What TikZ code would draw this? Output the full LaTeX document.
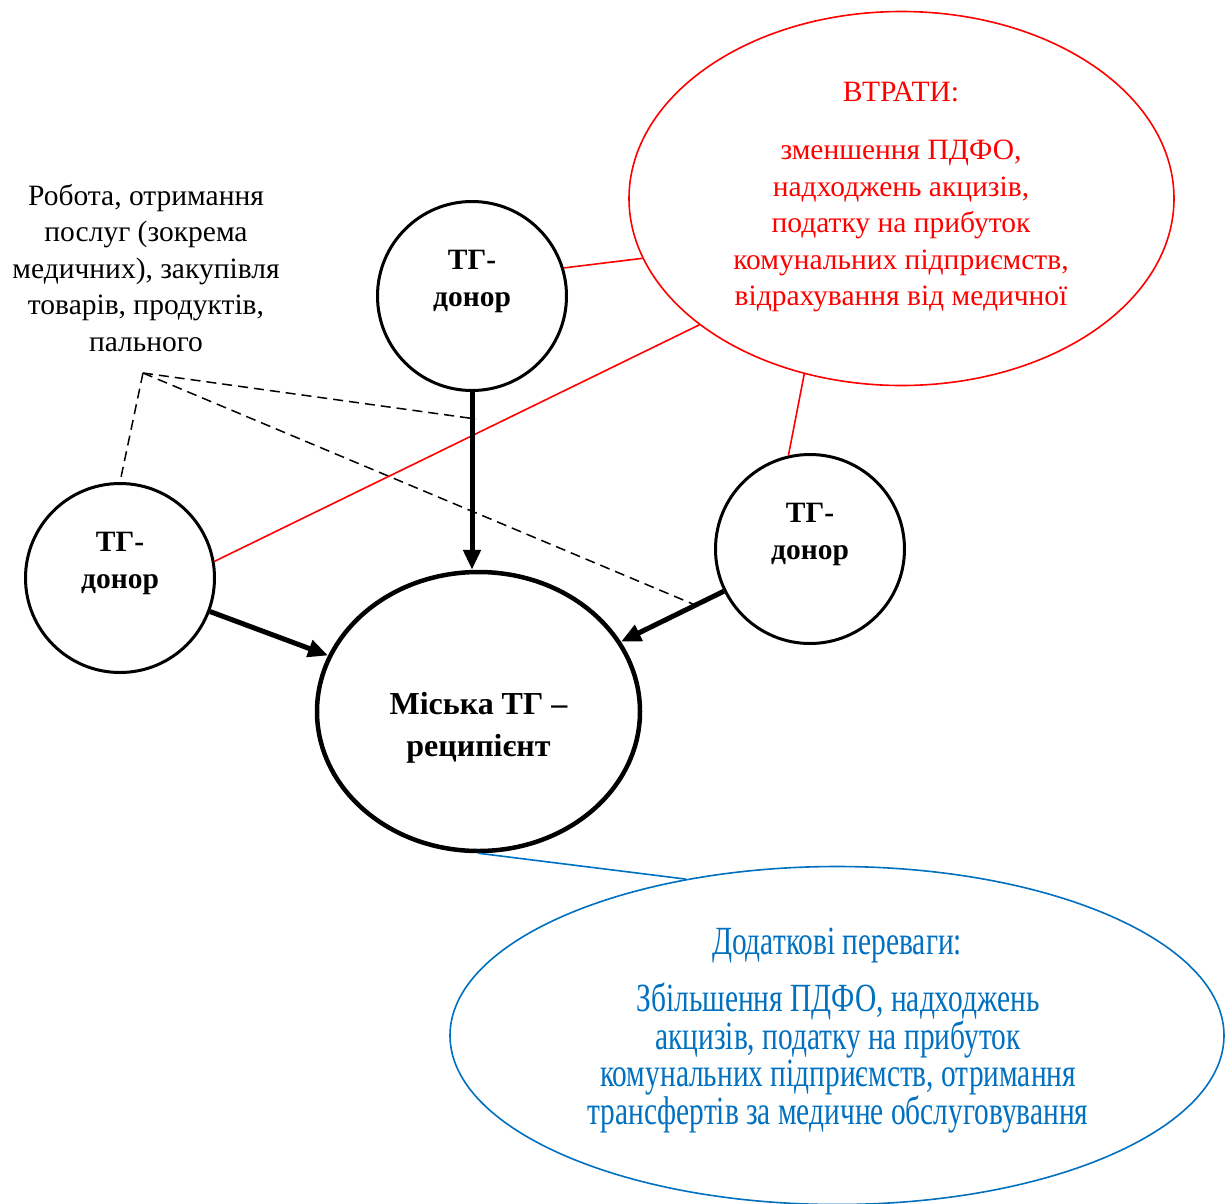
\documentclass[tikz,border=0pt]{standalone}
\usepackage{fontspec}
\setmainfont{Liberation Serif}
\newfontfamily\condserif{Liberation Serif}[FakeStretch=0.735]
\usetikzlibrary{shapes.geometric,arrows.meta,calc}
\definecolor{lossred}{RGB}{255,0,0}
\definecolor{gainblue}{RGB}{0,112,192}
\begin{document}
\begin{tikzpicture}[x=1pt,y=-1pt,
  donor/.style={circle, draw=black, line width=3pt, minimum size=189pt, inner sep=0pt},
  hub/.style={ellipse, draw=black, line width=4.5pt, minimum width=323pt, minimum height=279pt, inner sep=0pt},
  lossbubble/.style={ellipse, draw=lossred, line width=1.6pt, minimum width=545pt, minimum height=374pt, inner sep=0pt},
  gainbubble/.style={ellipse, draw=gainblue, line width=1.6pt, minimum width=774pt, minimum height=338pt, inner sep=0pt},
  donortxt/.style={align=center, inner sep=0pt, font=\fontsize{29.5}{37}\selectfont\bfseries},
  hubtxt/.style={align=center, inner sep=0pt, font=\fontsize{32}{42}\selectfont\bfseries},
  lbl/.style={align=center, inner sep=0pt, font=\fontsize{29.5}{36.5}\selectfont},
  losstxt/.style={lbl, text=lossred},
  gaintxt/.style={align=center, inner sep=0pt, text=gainblue, font=\fontsize{40}{36.7}\selectfont\condserif},
  flow/.style={line width=5pt, -{Triangle[length=20pt,width=17pt]}},
  dashline/.style={line width=1.5pt, dash pattern=on 10pt off 6pt},
  lossline/.style={draw=lossred, line width=1.6pt},
  gainline/.style={draw=gainblue, line width=1.6pt}
]
\useasboundingbox (0,0) rectangle (1232,1203);
\clip (0,0) rectangle (1232,1203);
\fill[white] (0,0) rectangle (1232,1203);

% bubbles
\node[lossbubble] (loss) at (901.5,198.5) {};
\node[gainbubble] (gain) at (837,1035.5) {};

% main nodes
\node[donor] (d1) at (472,296) {};
\node[donor] (d2) at (120,578) {};
\node[donor] (d3) at (810,549) {};
\node[hub] (hub) at (478.5,711.5) {};

% texts
\node[donortxt] (d1t) at ($(d1)+(0,-15)$) {ТГ-\\донор};
\node[donortxt] (d2t) at ($(d2)+(0,-15)$) {ТГ-\\донор};
\node[donortxt] (d3t) at ($(d3)+(0,-15)$) {ТГ-\\донор};
\node[hubtxt] (hubt) at ($(hub)+(0,16)$) {Міська ТГ –\\реципієнт};

\node[lbl] (work) at (146,268) {Робота, отримання\\послуг (зокрема\\медичних), закупівля\\товарів, продуктів,\\пального};

\node[losstxt] (losshead) at (901,92) {ВТРАТИ:};
\node[losstxt] (lossbody) at (901,226) {зменшення ПДФО,\\надходжень акцизів,\\податку на прибуток\\комунальних підприємств,\\відрахування від медичної};

\node[gaintxt] (gainhead) at (837,946) {Додаткові переваги:};
\node[gaintxt] (gainbody) at (838,1058) {Збільшення ПДФО, надходжень\\акцизів, податку на прибуток\\комунальних підприємств, отримання\\трансфертів за медичне обслуговування};

% dashed connectors
\coordinate (src) at (143,373);
\coordinate (dashA) at (476,419);
\coordinate (dashB) at (700,607);
\draw[dashline] (src) -- (d2.north);
\draw[dashline] (src) -- (dashA);
\draw[dashline] (src) -- (dashB);

% red connectors
\draw[lossline] (d1.17) -- (loss.193);
\draw[lossline] (d2.10) -- (loss.212);
\draw[lossline] (d3.103) -- (loss.241);

% blue connector
\draw[gainline] (hub.south) -- (gain.134);

% flows
\draw[flow] (d1.south) -- (d1.south |- hub.north);
\draw[flow] (d2) -- (hub);
\draw[flow] (d3) -- (hub);
\end{tikzpicture}
\end{document}
